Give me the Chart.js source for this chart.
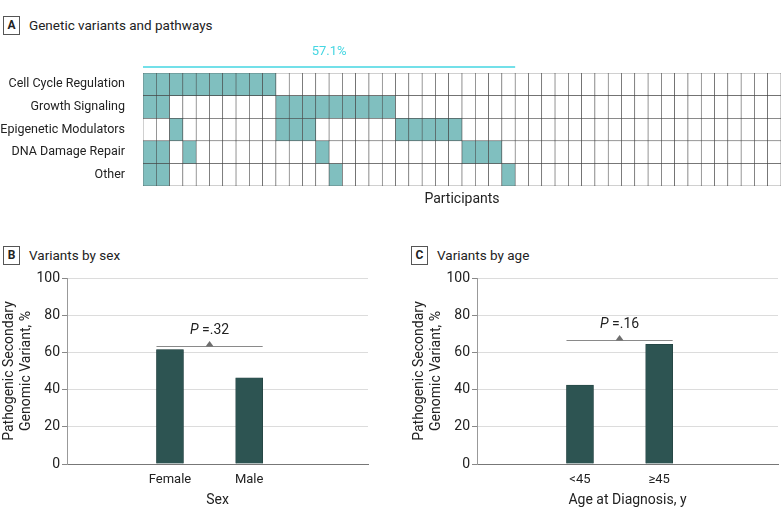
<!DOCTYPE html>
<html>
<head>
<meta charset="utf-8">
<script src="https://cdn.jsdelivr.net/npm/chart.js@4.4.1/dist/chart.umd.min.js"></script>
<style>
  body { margin: 0; background: #fff; font-family: Roboto, sans-serif; color: #222; }
  #wrap { position: relative; width: 783px; height: 520px; overflow: hidden; }
  .head { position: absolute; font-size: 13.5px; height: 18px; line-height: 18px; white-space: nowrap; }
  .head b { display: inline-block; width: 15px; height: 17px; line-height: 17px; border: 1px solid #555;
            text-align: center; font-size: 12px; margin-right: 9px; vertical-align: top; }
  canvas { position: absolute; }
</style>
</head>
<body>
<div id="wrap">
  <div class="head" style="left:3px;top:16px"><b>A</b>Genetic variants and pathways</div>
  <div class="head" style="left:3px;top:246px"><b>B</b>Variants by sex</div>
  <div class="head" style="left:411px;top:246px"><b>C</b>Variants by age</div>
  <canvas id="heat" width="783" height="215" style="left:0;top:0"></canvas>
  <canvas id="bySex" width="390" height="258" style="left:0;top:262px"></canvas>
  <canvas id="byAge" width="393" height="258" style="left:390px;top:262px"></canvas>
</div>
<script>
// Datos del panel A: índice (desde 0) de los participantes con variante en cada vía
const pathways = ['Cell Cycle Regulation', 'Growth Signaling', 'Epigenetic Modulators', 'DNA Damage Repair', 'Other'];
const cellCycle = [0, 1, 2, 3, 4, 5, 6, 7, 8, 9];
const growthSignaling = [0, 1, 10, 11, 12, 13, 14, 15, 16, 17, 18];
const epigenetic = [2, 10, 11, 12, 19, 20, 21, 22, 23];
const dnaRepair = [0, 1, 3, 13, 24, 25, 26];
const otherPathway = [0, 1, 14, 27];
const participantCount = 48;
const withVariant = 28;
const withVariantLabel = '57.1%';

// Datos de los paneles B y C
const sexLabels = ['Female', 'Male'];
const sexValues = [61.5, 46.3];
const sexP = '.32';
const sexBracket = 63.7;

const ageLabels = ['<45', '≥45'];
const ageValues = [42.4, 64.4];
const ageP = '.16';
const ageBracket = 66.9;

const FONT = 'Roboto';
const FILL = '#80bfbf';
const CYAN = '#45d6e2';
const BAR = '#2d5452';

const rowSets = [cellCycle, growthSignaling, epigenetic, dnaRepair, otherPathway];
const participantIds = Array.from({length: participantCount}, (_, i) => String(i + 1));

// Línea del porcentaje encima de la rejilla
const shareLine = {
  id: 'shareLine',
  afterDraw(chart) {
    const {ctx, scales: {x}} = chart;
    const w = x.getPixelForValue(1) - x.getPixelForValue(0);
    const x0 = x.getPixelForValue(0) - w / 2;
    const x1 = x.getPixelForValue(withVariant - 1) + w / 2;
    const y = chart.chartArea.top - 6;
    ctx.save();
    ctx.strokeStyle = CYAN;
    ctx.lineWidth = 1.5;
    ctx.beginPath();
    ctx.moveTo(x0, y);
    ctx.lineTo(x1, y);
    ctx.stroke();
    ctx.fillStyle = CYAN;
    ctx.font = '13px ' + FONT;
    ctx.textAlign = 'center';
    ctx.textBaseline = 'middle';
    ctx.fillText(withVariantLabel, (x0 + x1) / 2, y - 15);
    ctx.restore();
  }
};

new Chart(document.getElementById('heat'), {
  type: 'bar',
  data: {
    labels: participantIds,
    datasets: pathways.map((name, r) => ({
      label: name,
      data: participantIds.map(() => [r, r + 1]),
      backgroundColor: participantIds.map((p, i) => rowSets[r].includes(i) ? FILL : '#fff'),
      borderColor: '#444',
      borderWidth: 0.6,
      borderSkipped: false,
      categoryPercentage: 1,
      barPercentage: 1,
      grouped: false
    }))
  },
  options: {
    responsive: false,
    animation: false,
    events: [],
    layout: {padding: {top: 73, right: 2}},
    plugins: {legend: {display: false}, tooltip: {enabled: false}},
    scales: {
      x: {
        grid: {display: false},
        border: {display: false},
        ticks: {display: false},
        title: {display: true, text: 'Participants', color: '#222', font: {family: FONT, size: 14}, padding: {top: 0, bottom: 7}},
        afterFit: s => { s.height = 29; }
      },
      y: {
        min: 0, max: 5, reverse: true,
        grid: {display: false},
        border: {display: false},
        afterBuildTicks: s => { s.ticks = pathways.map((_, i) => ({value: i + 0.5})); },
        ticks: {callback: v => pathways[Math.floor(v)], color: '#222', font: {family: FONT, size: 12.5}, padding: 10},
        afterFit: s => { s.width = 143; }
      }
    }
  },
  plugins: [shareLine]
});

// Corchete con el valor P encima de las dos barras
const bracket = {
  id: 'bracket',
  afterDatasetsDraw(chart, args, opts) {
    const {ctx, scales: {y}} = chart;
    const bars = chart.getDatasetMeta(0).data;
    const x0 = bars[0].x - bars[0].width / 2;
    const x1 = bars[1].x + bars[1].width / 2;
    const yy = Math.round(y.getPixelForValue(opts.level)) + 0.5;
    const cx = (x0 + x1) / 2;
    ctx.save();
    ctx.strokeStyle = '#8a8a8a';
    ctx.lineWidth = 1;
    ctx.beginPath();
    ctx.moveTo(x0, yy);
    ctx.lineTo(x1, yy);
    ctx.stroke();
    ctx.fillStyle = '#6e6e6e';
    ctx.beginPath();
    ctx.moveTo(cx - 4, yy);
    ctx.lineTo(cx + 4, yy);
    ctx.lineTo(cx, yy - 5.5);
    ctx.closePath();
    ctx.fill();
    ctx.fillStyle = '#222';
    ctx.textBaseline = 'middle';
    ctx.font = 'italic 14px ' + FONT;
    const pW = ctx.measureText('P').width;
    ctx.font = '14px ' + FONT;
    const rest = ' =' + opts.p;
    const rW = ctx.measureText(rest).width;
    const tx = cx - (pW + rW) / 2;
    ctx.font = 'italic 14px ' + FONT;
    ctx.fillText('P', tx, yy - 16);
    ctx.font = '14px ' + FONT;
    ctx.fillText(rest, tx + pW, yy - 16);
    ctx.restore();
  }
};

function drawBars(id, labels, values, p, level, xTitle, padLeft, padRight) {
  return new Chart(document.getElementById(id), {
    type: 'bar',
    data: {
      datasets: [{
        data: labels.map((l, i) => ({x: i + 1, y: values[i]})),
        backgroundColor: BAR,
        borderColor: '#1f3b3a',
        borderWidth: 0.5,
        barThickness: 27
      }]
    },
    options: {
      responsive: false,
      animation: false,
      events: [],
      layout: {padding: {top: 16, left: padLeft, right: padRight}},
      plugins: {legend: {display: false}, tooltip: {enabled: false}, bracket: {p: p, level: level}},
      scales: {
        x: {
          type: 'linear', min: -0.3, max: 3.5, offset: false,
          grid: {display: false},
          border: {display: true, color: '#777'},
          afterBuildTicks: s => { s.ticks = labels.map((l, i) => ({value: i + 1})); },
          ticks: {callback: v => labels[v - 1], color: '#222', font: {family: FONT, size: 13}, padding: 0, maxRotation: 0, autoSkip: false},
          title: {display: true, text: xTitle, color: '#222', font: {family: FONT, size: 14}, padding: {top: 0, bottom: 11}},
          afterFit: s => { s.height = 56; }
        },
        y: {
          min: 0, max: 100,
          ticks: {stepSize: 20, color: '#222', font: {family: FONT, size: 14}, padding: 2},
          grid: {color: '#dcdcdc', tickColor: '#888', tickLength: 5},
          border: {display: true, color: '#999'},
          title: {display: true, text: ['Pathogenic Secondary', 'Genomic Variant, %'], color: '#222', font: {family: FONT, size: 14}, padding: {top: 1.5, bottom: 0}},
          afterFit: s => { s.width = 67; }
        }
      }
    },
    plugins: [bracket]
  });
}

drawBars('bySex', sexLabels, sexValues, sexP, sexBracket, 'Sex', 0, 22);
drawBars('byAge', ageLabels, ageValues, ageP, ageBracket, 'Age at Diagnosis, y', 20, 5);
</script>
</body>
</html>
